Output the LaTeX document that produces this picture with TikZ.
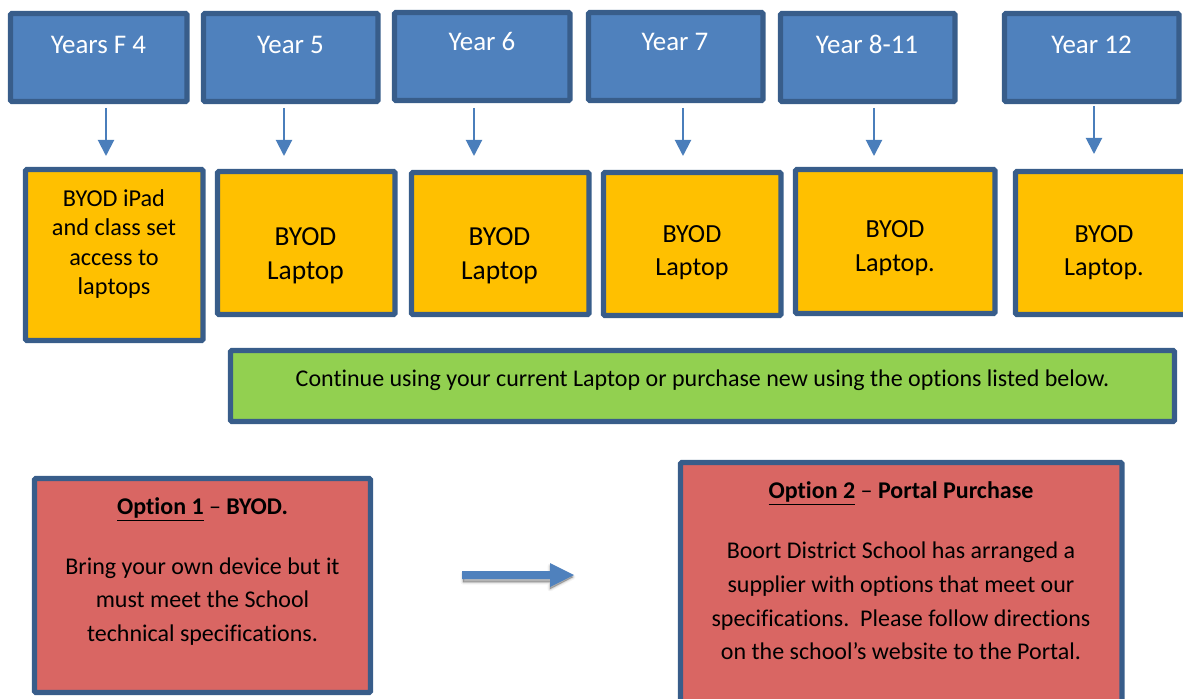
\documentclass[tikz,border=0pt]{standalone}
\usepackage{fontspec}
\setmainfont{Carlito}[Ligatures=CommonOff]
\usetikzlibrary{calc,arrows.meta}
\definecolor{bluefill}{HTML}{4F81BD}
\definecolor{edgeblue}{HTML}{385D8A}
\definecolor{arrowblue}{HTML}{4A7EBB}
\definecolor{yellowfill}{HTML}{FFC000}
\definecolor{greenfill}{HTML}{92D050}
\definecolor{redfill}{HTML}{D96663}
\tikzset{
  x=0.75pt,y=-0.75pt,
  boxbase/.style={draw=edgeblue,line width=4pt,rounded corners=1pt,inner sep=0pt,outer sep=0pt},
  bluebox/.style={boxbase,fill=bluefill},
  yellowbox/.style={boxbase,fill=yellowfill},
  greenbox/.style={boxbase,fill=greenfill},
  redbox/.style={boxbase,fill=redfill},
  whitetxt/.style={text=white,font=\fontsize{20.2pt}{21pt}\selectfont,align=center,inner sep=0pt},
  smalltxt/.style={text=black,font=\fontsize{18.2pt}{22.2pt}\selectfont,align=center,inner sep=0pt},
  bigtxt/.style={text=black,font=\fontsize{20.6pt}{25.5pt}\selectfont,align=center,inner sep=0pt},
  midtxt/.style={text=black,font=\fontsize{19.6pt}{25pt}\selectfont,align=center,inner sep=0pt},
  longtxt/.style={text=black,font=\fontsize{18pt}{25.3pt}\selectfont,align=center,inner sep=0pt},
  droparrow/.style={draw=arrowblue,line width=1.5pt,-{Triangle[length=12pt,width=12pt,fill=arrowblue]}},
}
% name, left, top, right, bottom of the centre line of the outline, style
\newcommand{\pbox}[6]{\path[#6] (#2,#3) rectangle (#4,#5);
  \coordinate (#1) at ($(#2,#3)!0.5!(#4,#5)$);}
\begin{document}
\begin{tikzpicture}
\useasboundingbox (0,0) rectangle (1183,699);
\clip (0,0) rectangle (1183,699);
% top row
\pbox{b1}{10.5}{13.5}{187}{101.5}{bluebox}
\pbox{b2}{203.5}{13.5}{378}{101.5}{bluebox}
\pbox{b3}{394.5}{12.5}{570}{100.5}{bluebox}
\pbox{b4}{588.5}{12.5}{763}{100.5}{bluebox}
\pbox{b5}{780.5}{13.5}{955}{101.5}{bluebox}
\pbox{b6}{1004.5}{13.5}{1179}{101.5}{bluebox}
\node[whitetxt] (tb1) at (98.5,44.6) {Years F 4};
\node[whitetxt] (tb2) at (290.5,44.6) {Year 5};
\node[whitetxt] (tb3) at (482,41.6) {Year 6};
\node[whitetxt] (tb4) at (675,41.6) {Year 7};
\node[whitetxt] (tb5) at (867,44.2) {Year 8-11};
\node[whitetxt] (tb6) at (1091.5,44.6) {Year 12};
% second row
\pbox{y1}{25.5}{169.5}{203}{340.5}{yellowbox}
\pbox{y2}{217.5}{171.5}{395}{314.5}{yellowbox}
\pbox{y3}{411.5}{172.5}{589}{314.5}{yellowbox}
\pbox{y4}{603.5}{172.5}{781}{315.5}{yellowbox}
\pbox{y5}{795.5}{169.5}{995}{313.5}{yellowbox}
\pbox{y6}{1015.5}{171.5}{1200}{314.5}{yellowbox}
\node[smalltxt] (ty1) at (114,244) {BYOD iPad\\and class set\\access to\\laptops};
\node[bigtxt] (ty2) at (305.5,256) {BYOD\\Laptop};
\node[bigtxt] (ty3) at (499.5,256) {BYOD\\Laptop};
\node[midtxt] (ty4) at (692,252.5) {BYOD\\Laptop};
\node[midtxt] (ty5) at (895,248) {BYOD\\Laptop.};
\node[midtxt] (ty6) at (1104,252.5) {BYOD\\Laptop.};
% connectors
\coordinate (a1s) at (106,108); \coordinate (a1e) at (106,156);
\coordinate (a2s) at (284,108); \coordinate (a2e) at (284,156);
\coordinate (a3s) at (474,108); \coordinate (a3e) at (474,156);
\coordinate (a4s) at (683,108); \coordinate (a4e) at (683,156);
\coordinate (a5s) at (874,108); \coordinate (a5e) at (874,156);
\coordinate (a6s) at (1094,106); \coordinate (a6e) at (1094,154);
\foreach \i in {1,...,6} \draw[droparrow] (a\i s) -- (a\i e);
% green band
\pbox{g}{230.5}{350.5}{1174.5}{421.5}{greenbox}
\node[longtxt] (tg) at (702.5,380) {Continue using your current Laptop or purchase new using the options listed below.};
% option boxes
\pbox{r1}{34.5}{478.5}{370.5}{692.5}{redbox}
\pbox{r2}{680.5}{462.5}{1122}{720}{redbox}
\node[longtxt] (tr1) at (202.5,509) {\textbf{\underline{Option 1}} – \textbf{BYOD.}};
\node[longtxt] (tr1b) at (202.5,601.5) {Bring your own device but it\\must meet the School\\technical specifications.};
\node[longtxt] (tr2) at (901,493) {\textbf{\underline{Option 2}} – \textbf{Portal Purchase}};
\node[longtxt] (tr2b) at (901,601) {Boort District School has arranged a\\supplier with options that meet our\\specifications.\ \ Please follow directions\\on the school’s website to the Portal.};
% block arrow shadow, soft edges
\foreach \w/\o in {5/0.04,3/0.06,1.5/0.08,0.5/0.10}
  \path[fill=black,draw=black,draw opacity=\o,fill opacity=\o,line width=\w*0.75pt,line join=round]
    (463,574) -- (550,574) -- (550,566) -- (573,577) -- (550,589) -- (550,582) -- (463,582) -- cycle;
% block arrow
\fill[bluefill] (462,571) -- (550,571) -- (550,563) -- (574,575) -- (550,587) -- (550,579) -- (462,579) -- cycle;
\end{tikzpicture}
\end{document}
